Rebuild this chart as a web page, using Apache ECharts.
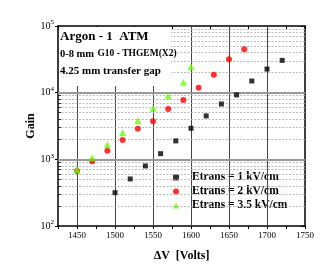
<!DOCTYPE html>
<html><head><meta charset="utf-8">
<script src="https://cdn.jsdelivr.net/npm/echarts@6/dist/echarts.min.js"></script>
<style>html,body{margin:0;padding:0;background:#fff}#c{width:332px;height:277px}</style>
</head><body><div id="c"></div>
<script>
// Data
const xE1 = [1500,1520,1540,1560,1580,1600,1620,1640,1660,1680,1700,1720];
const gE1 = [316,508,796,1216,1890,2920,4480,6760,9250,14960,22600,30500];
const xE2 = [1450,1470,1490,1510,1530,1550,1570,1590,1610,1630,1650,1670];
const gE2 = [670,936,1350,1955,2880,3725,5700,7780,11880,18620,31600,44700];
const xE3 = [1450,1470,1490,1510,1530,1550,1570,1590,1600];
const gE3 = [700,1060,1660,2510,3800,5830,9020,14300,24500];
const seriesNames = ['Etrans = 1 kV/cm','Etrans = 2 kV/cm','Etrans = 3.5 kV/cm'];
const seriesIcons = ['rect','circle','triangle'];
const xMajorGrid = [1450,1500,1550,1600,1650,1700];
const yMajorGrid = [1000,10000];
const yMinorGrid = [200,300,400,500,600,700,800,900,2000,3000,4000,5000,6000,7000,8000,9000,20000,30000,40000,50000,60000,70000,80000,90000];
const xMin = 1425, xMax = 1750, yMin = 100, yMax = 100000;

const serif = '"Liberation Serif","DejaVu Serif",serif';
const pair = (xs, ys) => xs.map((x,i)=>[x, ys[i]]);

const mlData = [];
xMajorGrid.forEach(v => mlData.push([{coord:[v,yMin], lineStyle:{color:'#444',width:1,type:'solid'}},{coord:[v,yMax]}]));
yMinorGrid.forEach(v => mlData.push([{coord:[xMin,v], lineStyle:{color:'#aaa',width:0.8,type:[2,1.5]}},{coord:[xMax,v]}]));
yMajorGrid.forEach(v => mlData.push([{coord:[xMin,v], lineStyle:{color:'#999',width:2.2,type:'solid'}},{coord:[xMax,v]}]));
// minor y ticks (inside, left)
yMinorGrid.forEach(v => mlData.push([{coord:[xMin,v], lineStyle:{color:'#000',width:0.8,type:'solid'}},{coord:[xMin+4,v]}]));

const chart = echarts.init(document.getElementById('c'));
chart.setOption({
  animation:false,
  backgroundColor:'#fff',
  grid:{left:58, top:26, right:27, bottom:51},
  xAxis:[{
    type:'value', min:xMin, max:xMax, interval:25,
    name:'\u0394V  [Volts]', nameLocation:'middle', nameGap:24, nameMoveOverlap:false,
    nameTextStyle:{fontFamily:serif, fontWeight:'bold', fontSize:12, color:'#000'},
    axisLine:{lineStyle:{color:'#000', width:1.5}},
    axisTick:{show:true, inside:false, length:3, lineStyle:{color:'#000'}},
    axisLabel:{fontFamily:serif, fontSize:9, color:'#000', margin:5,
      formatter: v => (v % 50 === 0 ? String(v) : '')},
    splitLine:{show:false}
  },{
    type:'value', position:'top', min:xMin, max:xMax, interval:25,
    axisLine:{lineStyle:{color:'#000', width:1.5}},
    axisTick:{show:true, inside:true, length:3, lineStyle:{color:'#000'}},
    axisLabel:{show:false}, splitLine:{show:false}
  }],
  yAxis:[{
    type:'log', logBase:10, min:yMin, max:yMax,
    name:'Gain', nameLocation:'middle', nameGap:21, nameMoveOverlap:false,
    nameTextStyle:{fontFamily:serif, fontWeight:'bold', fontSize:12, color:'#000'},
    axisLine:{show:true, lineStyle:{color:'#000', width:1.5}},
    axisTick:{show:true, inside:false, length:3, lineStyle:{color:'#000'}},
    axisLabel:{margin:4, formatter: v => '{b|10}{s|' + Math.round(Math.log10(v)) + '}',
      rich:{b:{fontFamily:serif, fontSize:10, color:'#000'}, s:{fontFamily:serif, fontSize:7, color:'#000', padding:[0,0,7,0]}}},
    splitLine:{show:false}
  },{
    type:'log', logBase:10, min:yMin, max:yMax, position:'right',
    axisLine:{show:true, lineStyle:{color:'#000', width:1.5}},
    axisTick:{show:true, inside:true, length:4, lineStyle:{color:'#000'}},
    axisLabel:{show:false}, splitLine:{show:false}
  }],
  legend:{
    data:seriesNames.map((n,i)=>({name:n, icon:seriesIcons[i]})),
    orient:'vertical', left:167, top:168,
    backgroundColor:'#fff', padding:[3,14,4,6], itemGap:1,
    itemWidth:6, itemHeight:6,
    textStyle:{fontFamily:serif, fontWeight:'bold', fontSize:11.5, color:'#000', lineHeight:13, padding:[0,0,0,8]}
  },
  series:[
    {type:'scatter', name:'grid', data:[], silent:true, z:1,
      markLine:{silent:true, symbol:['none','none'], label:{show:false}, animation:false, data:mlData}},
    {type:'scatter', name:seriesNames[0], data:pair(xE1,gE1), symbol:'rect', symbolSize:5, itemStyle:{color:'#000'}, z:5},
    {type:'scatter', name:seriesNames[1], data:pair(xE2,gE2), symbol:'circle', symbolSize:6, itemStyle:{color:'#ff0000'}, z:5},
    {type:'scatter', name:seriesNames[2], data:pair(xE3,gE3), symbol:'triangle', symbolSize:7, itemStyle:{color:'#66ff00'}, z:6}
  ],
  graphic:[
    {type:'rect', left:59, top:27, shape:{width:112, height:59}, style:{fill:'#fff'}, z:100},
    {type:'text', left:60, top:30, z:101, style:{text:'Argon - 1  ATM', font:'bold 13px ' + serif, fill:'#000'}},
    {type:'text', left:60, top:48, z:101, style:{text:'{a|0-8 mm} {b|G10 - THGEM(X2)}', rich:{a:{font:'bold 10.5px ' + serif, fill:'#000'}, b:{font:'bold 9.5px ' + serif, fill:'#000'}}}},
    {type:'text', left:60, top:66, z:101, style:{text:'4.25 mm transfer gap', font:'bold 11px ' + serif, fill:'#000'}}
  ]
});
</script></body></html>
